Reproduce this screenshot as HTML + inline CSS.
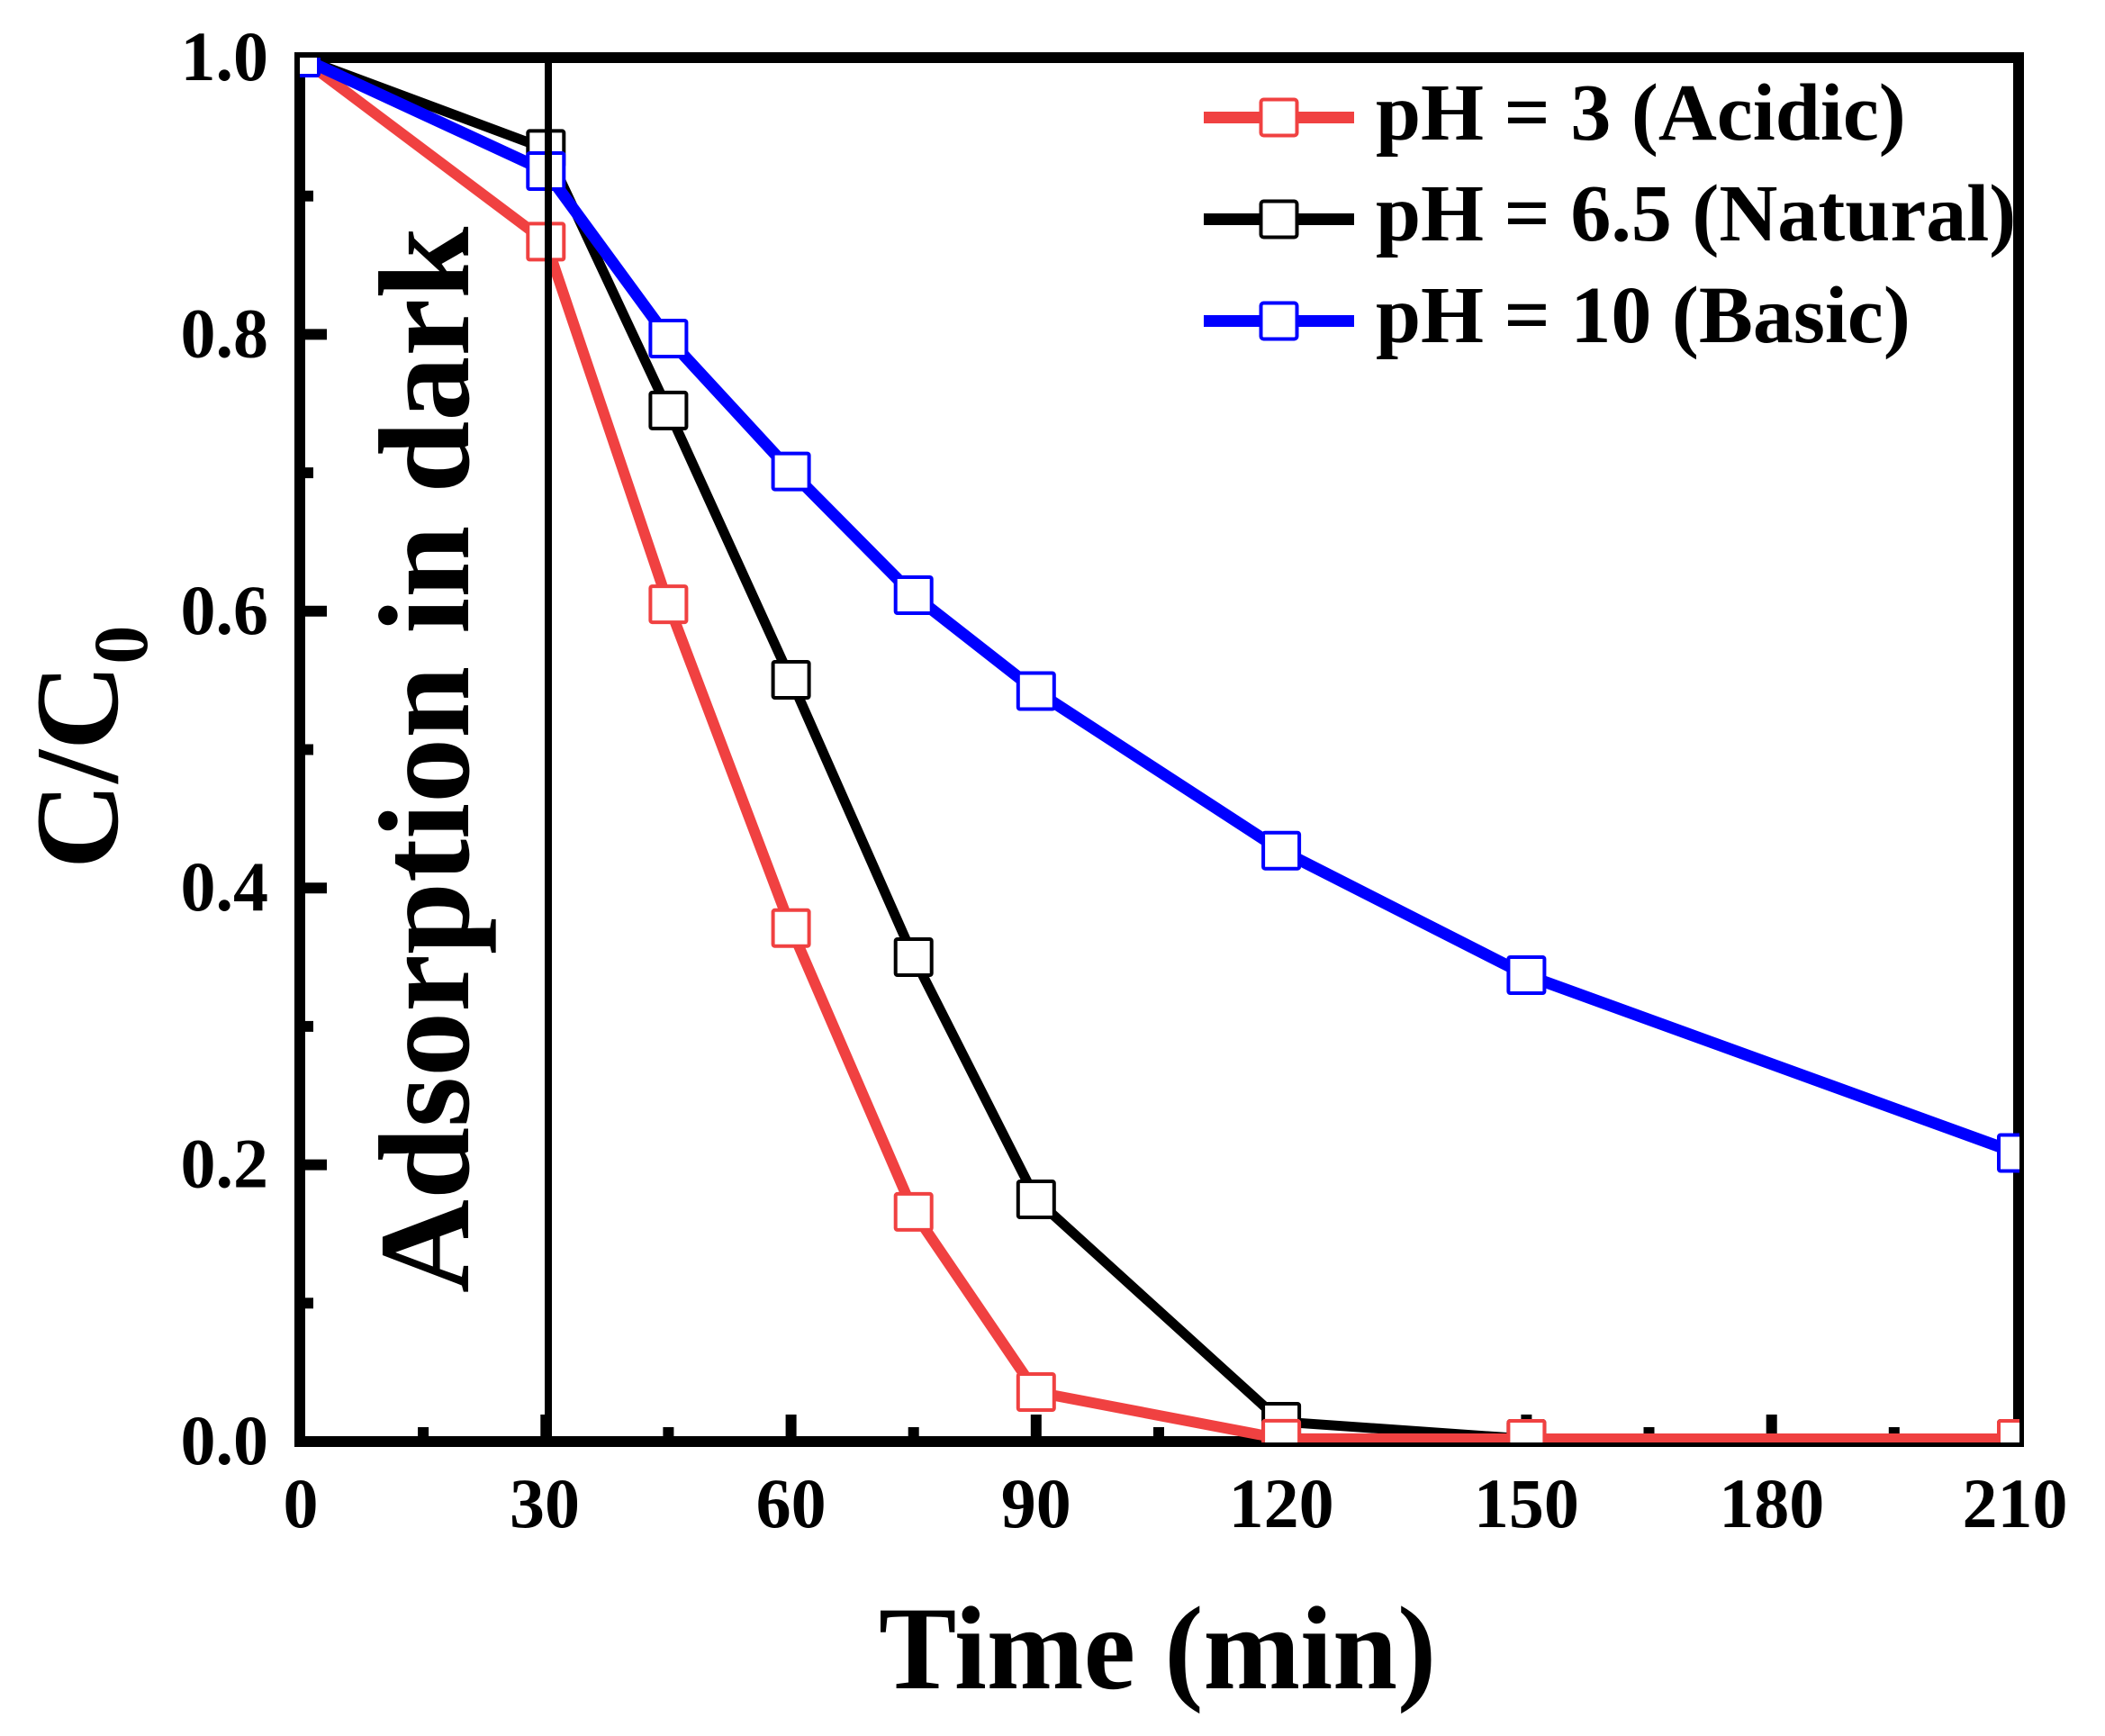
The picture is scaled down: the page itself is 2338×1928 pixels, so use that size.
<!DOCTYPE html>
<html>
<head>
<meta charset="utf-8">
<style>
html,body{margin:0;padding:0;background:#fff;}
svg{display:block;}
text{font-family:"Liberation Serif","Times New Roman",serif;font-weight:bold;fill:#000;}
</style>
</head>
<body>
<svg width="2338" height="1928" viewBox="0 0 2338 1928" xmlns="http://www.w3.org/2000/svg">
<defs>
<clipPath id="plot"><rect x="333" y="64" width="1910" height="1538"/></clipPath>
</defs>
<rect x="0" y="0" width="2338" height="1928" fill="#fff"/>

<!-- ticks left -->
<g stroke="#000" stroke-width="12">
<line x1="333" y1="1601" x2="363" y2="1601"/>
<line x1="333" y1="1447.3" x2="348" y2="1447.3"/>
<line x1="333" y1="1293.6" x2="363" y2="1293.6"/>
<line x1="333" y1="1139.9" x2="348" y2="1139.9"/>
<line x1="333" y1="986.2" x2="363" y2="986.2"/>
<line x1="333" y1="832.5" x2="348" y2="832.5"/>
<line x1="333" y1="678.8" x2="363" y2="678.8"/>
<line x1="333" y1="525.1" x2="348" y2="525.1"/>
<line x1="333" y1="371.4" x2="363" y2="371.4"/>
<line x1="333" y1="217.7" x2="348" y2="217.7"/>
<!-- ticks bottom -->
<line x1="470.1" y1="1601" x2="470.1" y2="1585"/>
<line x1="606.3" y1="1601" x2="606.3" y2="1571"/>
<line x1="742.4" y1="1601" x2="742.4" y2="1585"/>
<line x1="878.6" y1="1601" x2="878.6" y2="1571"/>
<line x1="1014.7" y1="1601" x2="1014.7" y2="1585"/>
<line x1="1150.8" y1="1601" x2="1150.8" y2="1571"/>
<line x1="1287" y1="1601" x2="1287" y2="1585"/>
<line x1="1423.1" y1="1601" x2="1423.1" y2="1571"/>
<line x1="1559.3" y1="1601" x2="1559.3" y2="1585"/>
<line x1="1695.4" y1="1601" x2="1695.4" y2="1571"/>
<line x1="1831.5" y1="1601" x2="1831.5" y2="1585"/>
<line x1="1967.7" y1="1601" x2="1967.7" y2="1571"/>
<line x1="2103.8" y1="1601" x2="2103.8" y2="1585"/>
</g>

<!-- axes frame -->
<rect x="333" y="64" width="1909" height="1537" fill="none" stroke="#000" stroke-width="12"/>

<!-- data -->
<g clip-path="url(#plot)">
  <!-- black pH 6.5 -->
  <polyline fill="none" stroke="#000" stroke-width="11" stroke-linejoin="round"
    points="334,64 606.3,165.4 742.4,455.9 878.6,755 1014.7,1063 1150.8,1332 1423.1,1579 1695.4,1598 2240,1598"/>
  <g fill="#fff" stroke="#000" stroke-width="4">
    <rect x="314" y="44" width="40" height="40" rx="2"/>
    <rect x="586.3" y="145.4" width="40" height="40" rx="2"/>
    <rect x="722.4" y="435.9" width="40" height="40" rx="2"/>
    <rect x="858.6" y="735" width="40" height="40" rx="2"/>
    <rect x="994.7" y="1043" width="40" height="40" rx="2"/>
    <rect x="1130.8" y="1312" width="40" height="40" rx="2"/>
    <rect x="1403.1" y="1559" width="40" height="40" rx="2"/>
    <rect x="1675.4" y="1578" width="40" height="40" rx="2"/>
    <rect x="2220" y="1578" width="40" height="40" rx="2"/>
  </g>
  <!-- red pH 3 -->
  <polyline fill="none" stroke="#F04141" stroke-width="12" stroke-linejoin="round"
    points="334,64 606.3,268.4 742.4,671.1 878.6,1030.8 1014.7,1345.9 1150.8,1546 1423.1,1597.9 1695.4,1598 2240,1598"/>
  <g fill="#fff" stroke="#F04141" stroke-width="4">
    <rect x="314" y="44" width="40" height="40" rx="2"/>
    <rect x="586.3" y="248.4" width="40" height="40" rx="2"/>
    <rect x="722.4" y="651.1" width="40" height="40" rx="2"/>
    <rect x="858.6" y="1010.8" width="40" height="40" rx="2"/>
    <rect x="994.7" y="1325.9" width="40" height="40" rx="2"/>
    <rect x="1130.8" y="1526" width="40" height="40" rx="2"/>
    <rect x="1403.1" y="1577.9" width="40" height="40" rx="2"/>
    <rect x="1675.4" y="1578" width="40" height="40" rx="2"/>
    <rect x="2220" y="1578" width="40" height="40" rx="2"/>
  </g>
  <!-- blue pH 10 -->
  <polyline fill="none" stroke="#0000FF" stroke-width="13" stroke-linejoin="round"
    points="334,64 606.3,190 742.4,376 878.6,523.6 1014.7,661 1150.8,767.5 1423.1,944.7 1695.4,1083 2240,1280.5"/>
  <g fill="#fff" stroke="#0000FF" stroke-width="4">
    <rect x="314" y="44" width="40" height="40" rx="2"/>
    <rect x="586.3" y="170" width="40" height="40" rx="2"/>
    <rect x="722.4" y="356" width="40" height="40" rx="2"/>
    <rect x="858.6" y="503.6" width="40" height="40" rx="2"/>
    <rect x="994.7" y="641" width="40" height="40" rx="2"/>
    <rect x="1130.8" y="747.5" width="40" height="40" rx="2"/>
    <rect x="1403.1" y="924.7" width="40" height="40" rx="2"/>
    <rect x="1675.4" y="1063" width="40" height="40" rx="2"/>
    <rect x="2220" y="1260.5" width="40" height="40" rx="2"/>
  </g>
</g>

<!-- vertical dark/light separator -->
<line x1="609" y1="64" x2="609" y2="1601" stroke="#000" stroke-width="8"/>

<!-- y tick labels -->
<g font-size="78" text-anchor="end">
<text transform="translate(298,1626)">0.0</text>
<text transform="translate(298,1318.6)">0.2</text>
<text transform="translate(298,1011.2)">0.4</text>
<text transform="translate(298,703.8)">0.6</text>
<text transform="translate(298,396.4)">0.8</text>
<text transform="translate(298,89)">1.0</text>
</g>

<!-- x tick labels -->
<g font-size="78" text-anchor="middle">
<text transform="translate(334,1696)">0</text>
<text transform="translate(605,1696)">30</text>
<text transform="translate(878.6,1696)">60</text>
<text transform="translate(1150.8,1696)">90</text>
<text transform="translate(1423.1,1696)">120</text>
<text transform="translate(1695.4,1696)">150</text>
<text transform="translate(1967.7,1696)">180</text>
<text transform="translate(2238,1696)">210</text>
</g>

<!-- axis titles -->
<text transform="translate(976,1875) scale(0.98,1)" font-size="132">Time (min)</text>
<g transform="translate(130,965) rotate(-90)">
<text x="0" y="0" font-size="132">C/C<tspan font-size="86" dy="33">0</tspan></text>
</g>

<!-- annotation -->
<g transform="translate(520,1436) rotate(-90)">
<text x="0" y="0" font-size="144">Adsorption in dark</text>
</g>

<!-- legend -->
<line x1="1337" y1="130.5" x2="1504" y2="130.5" stroke="#F04141" stroke-width="13"/>
<rect x="1400.5" y="110.5" width="40" height="40" rx="3" fill="#fff" stroke="#F04141" stroke-width="4"/>
<line x1="1337" y1="243.5" x2="1504" y2="243.5" stroke="#000" stroke-width="13"/>
<rect x="1400.5" y="223.5" width="40" height="40" rx="3" fill="#fff" stroke="#000" stroke-width="4"/>
<line x1="1337" y1="356.5" x2="1504" y2="356.5" stroke="#0000FF" stroke-width="13"/>
<rect x="1400.5" y="336.5" width="40" height="40" rx="3" fill="#fff" stroke="#0000FF" stroke-width="4"/>
<g font-size="90">
<text x="1528" y="155">pH = 3 (Acidic)</text>
<text x="1528" y="267">pH = 6.5 (Natural)</text>
<text x="1528" y="380">pH = 10 (Basic)</text>
</g>
</svg>
</body>
</html>
